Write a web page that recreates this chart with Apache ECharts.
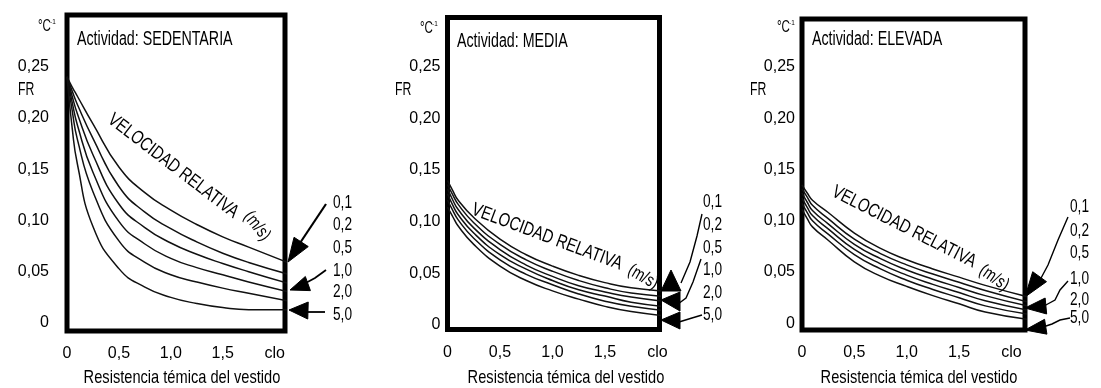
<!DOCTYPE html>
<html>
<head>
<meta charset="utf-8">
<script src="https://cdn.jsdelivr.net/npm/echarts@6/dist/echarts.min.js"></script>
<style>
  html, body { margin: 0; padding: 0; background: #fff; }
  #chart { width: 1101px; height: 388px; }
</style>
</head>
<body>
<div id="chart"></div>
<script>
// Clothing thermal resistance (clo) on the x axis
const cloX = [0, 0.05, 0.1, 0.25, 0.5, 0.75, 1.0, 1.25, 1.5, 1.75, 2.15];
// Relative air velocity of each curve (m/s)
const velocidades = ['0,1', '0,2', '0,5', '1,0', '2,0', '5,0'];
const actividades = ['SEDENTARIA', 'MEDIA', 'ELEVADA'];

// FR (°C-1) per velocity, activity SEDENTARIA
const frSedentaria = [
  [0.240, 0.230, 0.221, 0.194, 0.152, 0.127, 0.110, 0.096, 0.084, 0.074, 0.058],
  [0.240, 0.226, 0.213, 0.180, 0.133, 0.108, 0.092, 0.079, 0.068, 0.059, 0.047],
  [0.240, 0.221, 0.204, 0.164, 0.116, 0.093, 0.078, 0.067, 0.058, 0.050, 0.038],
  [0.240, 0.215, 0.193, 0.147, 0.099, 0.077, 0.063, 0.054, 0.047, 0.040, 0.030],
  [0.240, 0.207, 0.179, 0.128, 0.080, 0.059, 0.047, 0.040, 0.034, 0.029, 0.021],
  [0.240, 0.190, 0.155, 0.094, 0.053, 0.035, 0.025, 0.019, 0.015, 0.013, 0.013]
];
// activity MEDIA
const frMedia = [
  [0.140, 0.130, 0.121, 0.104, 0.083, 0.068, 0.057, 0.048, 0.041, 0.036, 0.032],
  [0.136, 0.126, 0.117, 0.099, 0.078, 0.063, 0.052, 0.043, 0.036, 0.031, 0.027],
  [0.132, 0.121, 0.112, 0.094, 0.073, 0.058, 0.047, 0.038, 0.032, 0.027, 0.022],
  [0.127, 0.116, 0.107, 0.089, 0.068, 0.054, 0.043, 0.034, 0.028, 0.022, 0.017],
  [0.121, 0.111, 0.102, 0.084, 0.063, 0.049, 0.039, 0.030, 0.023, 0.018, 0.013],
  [0.114, 0.105, 0.096, 0.078, 0.057, 0.043, 0.033, 0.025, 0.018, 0.013, 0.008]
];
// activity ELEVADA
const frElevada = [
  [0.135, 0.127, 0.120, 0.108, 0.088, 0.073, 0.062, 0.053, 0.045, 0.037, 0.026],
  [0.131, 0.123, 0.115, 0.102, 0.082, 0.068, 0.057, 0.048, 0.040, 0.032, 0.021],
  [0.127, 0.118, 0.110, 0.097, 0.077, 0.063, 0.052, 0.043, 0.035, 0.027, 0.017],
  [0.122, 0.113, 0.105, 0.092, 0.072, 0.058, 0.047, 0.038, 0.030, 0.022, 0.013],
  [0.117, 0.108, 0.100, 0.087, 0.067, 0.053, 0.042, 0.033, 0.025, 0.017, 0.009],
  [0.111, 0.102, 0.094, 0.081, 0.060, 0.046, 0.036, 0.027, 0.019, 0.011, 0.004]
];

const xTicks = [0, 0.5, 1, 1.5, 2];
const xTickLabels = ['0', '0,5', '1,0', '1,5', 'clo'];
const yTicks = [0, 0.05, 0.10, 0.15, 0.20, 0.25];
const yTickLabels = ['0', '0,05', '0,10', '0,15', '0,20', '0,25'];

const FONT = "'Liberation Sans', Arial, sans-serif";
const INK = '#000';

// panel frames and axis extents
const panels = [
  { data: frSedentaria, grid: { left: 67, top: 15, width: 218, height: 316 }, x: [0, 2.1], y: [-0.0078, 0.3002], yMargin: 18 },
  { data: frMedia, grid: { left: 447.5, top: 17.5, width: 212, height: 312 }, x: [0, 2.02], y: [-0.0044, 0.2977], yMargin: 7 },
  { data: frElevada, grid: { left: 802, top: 19, width: 223, height: 311 }, x: [0, 2.13], y: [-0.0065, 0.2966], yMargin: 7 }
];

function lookup(ticks, labels, v) {
  for (let i = 0; i < ticks.length; i++) if (Math.abs(ticks[i] - v) < 1e-9) return labels[i];
  return '';
}

const grids = [], xAxes = [], yAxes = [], series = [];
panels.forEach((p, i) => {
  grids.push(Object.assign({ show: true, borderColor: '#000', borderWidth: 5, backgroundColor: 'transparent' }, p.grid));
  xAxes.push({
    type: 'value', gridIndex: i, min: p.x[0], max: p.x[1],
    axisLine: { show: false }, axisTick: { show: false }, splitLine: { show: false },
    axisLabel: {
      customValues: xTicks, margin: 15, color: INK, fontFamily: FONT, fontSize: 16,
      formatter: v => lookup(xTicks, xTickLabels, v)
    }
  });
  yAxes.push({
    type: 'value', gridIndex: i, min: p.y[0], max: p.y[1],
    axisLine: { show: false }, axisTick: { show: false }, splitLine: { show: false },
    axisLabel: {
      customValues: yTicks, margin: p.yMargin, color: INK, fontFamily: FONT, fontSize: 16,
      formatter: v => lookup(yTicks, yTickLabels, v)
    }
  });
  p.data.forEach((vals, j) => {
    series.push({
      name: actividades[i] + ' ' + velocidades[j],
      type: 'line', xAxisIndex: i, yAxisIndex: i,
      data: cloX.map((x, k) => [x, vals[k]]),
      smooth: 0.5, showSymbol: false, silent: true, clip: true,
      lineStyle: { color: '#111', width: 1.5 }
    });
  });
});

// ---- annotations ----
const g = [];
function text(str, x, y, size, opts) {
  opts = opts || {};
  const s = opts.sx || 0.8;
  g.push({
    type: 'text', x: x, y: y, scaleX: s, scaleY: 1,
    rotation: opts.rot ? -opts.rot * Math.PI / 180 : 0, silent: true,
    style: {
      text: str, x: 0, y: 0, fill: INK, font: size + 'px ' + FONT,
      align: opts.align || 'left', verticalAlign: 'middle',
      textAlign: opts.align || 'left', textVerticalAlign: 'middle'
    }
  });
}
function polyline(pts, w) {
  g.push({ type: 'polyline', silent: true, shape: { points: pts }, style: { stroke: '#000', lineWidth: w || 1.6, fill: null } });
}
function triangle(pts) {
  g.push({ type: 'polygon', silent: true, shape: { points: pts }, style: { fill: '#000', stroke: '#000', lineWidth: 1 } });
}
function head(tip, from, len, w) {
  const dx = tip[0] - from[0], dy = tip[1] - from[1];
  const d = Math.hypot(dx, dy), ux = dx / d, uy = dy / d;
  const bx = tip[0] - ux * len, by = tip[1] - uy * len;
  triangle([tip, [bx - uy * w / 2, by + ux * w / 2], [bx + uy * w / 2, by - ux * w / 2]]);
}

// titles, units and axis names
const titlePos = [[77, 40], [457, 42], [812, 40]];
const frPos = [[18, 90], [395, 90], [750, 90]];
const unitPos = [[38, 27], [420, 29], [777, 28]];
const namePos = [[182, 378], [566, 378], [919, 378]];
actividades.forEach((a, i) => {
  text('Actividad: ' + a, titlePos[i][0], titlePos[i][1], 19.5, { sx: 0.73 });
  text('FR', frPos[i][0], frPos[i][1], 18, { sx: 0.68 });
  text('°C', unitPos[i][0], unitPos[i][1], 16, { sx: 0.72 });
  text('-1', unitPos[i][0] + 12, unitPos[i][1] - 5, 8, { sx: 0.8 });
  text('Resistencia témica del vestido', namePos[i][0], namePos[i][1], 19, { align: 'center', sx: 0.77 });
});

// curve captions
const capMain = [[173, 166, 37.5], [547, 237, 20.5], [904, 227, 27]];
const capUnit = [[257, 226, 52], [643, 277, 30], [994, 278, 35]];
capMain.forEach((c, i) => {
  text('VELOCIDAD RELATIVA', c[0], c[1], 19, { align: 'center', rot: c[2], sx: 0.78 });
  text('(m/s)', capUnit[i][0], capUnit[i][1], 18, { align: 'center', rot: capUnit[i][2], sx: 0.78 });
});

// velocity labels beside each panel
const velLabelX = [333, 703, 1070];
const velLabelY = [
  [203, 225, 248, 271, 292, 315],
  [202, 225, 248, 270, 293, 315],
  [207, 231, 253, 279, 300, 318]
];
velLabelX.forEach((x, i) => {
  velocidades.forEach((v, j) => text(v, x, velLabelY[i][j], 18, { sx: 0.76 }));
});

// pointer arrows, panel SEDENTARIA
polyline([[326, 204], [300, 243]], 2.2);
head([288, 262], [326, 204], 24, 17);
polyline([[326, 270], [315, 278], [302, 285]], 1.8);
head([290, 290], [315, 281], 19, 15);
polyline([[325, 312], [304, 312]], 1.8);
head([289, 310], [325, 311], 19, 17);

// panel MEDIA
polyline([[702, 214], [697, 236], [690, 262], [681, 283]], 1.4);
triangle([[671, 270], [661, 291], [681, 291]]);
polyline([[701, 259], [693, 282], [686, 298], [678, 304]], 1.4);
triangle([[661, 300], [680, 292], [680, 311]]);
polyline([[702, 315], [692, 318], [679, 322]], 1.4);
triangle([[661, 320], [680, 312], [680, 329]]);

// panel ELEVADA
polyline([[1068, 217], [1058, 240], [1048, 265], [1040, 280]], 1.4);
head([1025, 297], [1048, 265], 25, 17);
polyline([[1068, 281], [1060, 290], [1055, 300], [1044, 306]], 1.4);
head([1025, 308], [1046, 306], 21, 16);
polyline([[1070, 318], [1060, 320], [1052, 324], [1043, 327]], 1.4);
head([1025, 330], [1044, 327], 21, 15);

const chart = echarts.init(document.getElementById('chart'), null, { renderer: 'canvas' });
chart.setOption({
  animation: false,
  backgroundColor: '#fff',
  grid: grids,
  xAxis: xAxes,
  yAxis: yAxes,
  series: series,
  graphic: { elements: g }
});
</script>
</body>
</html>
